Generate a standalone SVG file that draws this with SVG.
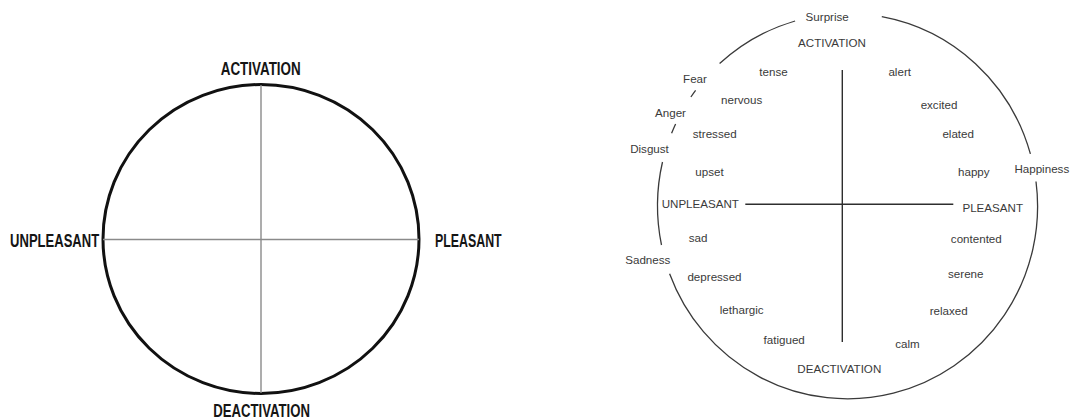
<svg xmlns="http://www.w3.org/2000/svg" width="1070" height="420" viewBox="0 0 1070 420">
  <style>
    .bg { fill: #ffffff; }
    .ring-bold { fill: none; stroke: #111111; stroke-width: 3; }
    .axis-light { stroke: #8a8a8a; stroke-width: 1.4; }
    .pole { font-family: "Liberation Sans", Arial, sans-serif; font-weight: bold; font-size: 18.5px; fill: #151515; text-anchor: middle; }
    .pole-low { font-size: 17.5px; }
    .ring-thin { fill: none; stroke: #3a3a3a; stroke-width: 1.3; }
    .axis-dark { stroke: #2e2e2e; stroke-width: 1.4; }
    .word { font-family: "Liberation Sans", Arial, sans-serif; font-size: 11.6px; fill: #3a3a3a; text-anchor: middle; }
  </style>

  <rect class="bg" x="0" y="0" width="1070" height="420"/>

  <!-- Simple circumplex: circle with two axes -->
  <g id="basic-model">
    <g id="basic-connectors">
      <ellipse class="ring-bold" cx="261" cy="239" rx="158" ry="154.5"/>
      <line class="axis-light" x1="261" y1="85" x2="261" y2="393"/>
      <line class="axis-light" x1="103" y1="239.5" x2="419" y2="239.5"/>
    </g>
    <g id="basic-activation"><text class="pole" x="260.7" y="75" textLength="80" lengthAdjust="spacingAndGlyphs">ACTIVATION</text></g>
    <g id="basic-deactivation"><text class="pole pole-low" x="261.6" y="416.5" textLength="96.7" lengthAdjust="spacingAndGlyphs">DEACTIVATION</text></g>
    <g id="basic-unpleasant"><text class="pole" x="54.6" y="247" textLength="89" lengthAdjust="spacingAndGlyphs">UNPLEASANT</text></g>
    <g id="basic-pleasant"><text class="pole" x="468.3" y="246.7" textLength="66.7" lengthAdjust="spacingAndGlyphs">PLEASANT</text></g>
  </g>

  <!-- Detailed circumplex: broken outer ring with emotion words -->
  <g id="detailed-model">
    <g id="detailed-connectors">
      <path class="ring-thin" d="M719.6,63.6 A190,192.5 0 0 1 795.1,21.0"/>
      <path class="ring-thin" d="M881.8,16.7 A190,192.5 0 0 1 1030.4,153.9"/>
      <path class="ring-thin" d="M1036.0,181.5 A190,192.5 0 0 1 669.6,273.7"/>
      <path class="ring-thin" d="M661.5,245.0 A190,192.5 0 0 1 662.5,162.0"/>
      <path class="ring-thin" d="M690.9,97.0 A190,192.5 0 0 1 695.6,90.4"/>
      <path class="ring-thin" d="M671.6,133.3 A190,192.5 0 0 1 675.6,124.0"/>
      <line class="axis-dark" x1="842.3" y1="70" x2="842.3" y2="342"/>
      <line class="axis-dark" x1="745.3" y1="204.3" x2="953.3" y2="204.3"/>
    </g>

    <g id="label-surprise"><text class="word" x="827.2" y="20.7">Surprise</text></g>
    <g id="label-activation"><text class="word" x="832" y="47.3">ACTIVATION</text></g>
    <g id="label-tense"><text class="word" x="773.5" y="76">tense</text></g>
    <g id="label-alert"><text class="word" x="899.7" y="76">alert</text></g>
    <g id="label-fear"><text class="word" x="695" y="83.3">Fear</text></g>
    <g id="label-nervous"><text class="word" x="741.7" y="104">nervous</text></g>
    <g id="label-excited"><text class="word" x="939" y="109.3">excited</text></g>
    <g id="label-anger"><text class="word" x="670.5" y="116.5">Anger</text></g>
    <g id="label-stressed"><text class="word" x="714.7" y="138.3">stressed</text></g>
    <g id="label-elated"><text class="word" x="958.2" y="138.3">elated</text></g>
    <g id="label-disgust"><text class="word" x="649.5" y="153.3">Disgust</text></g>
    <g id="label-happiness"><text class="word" x="1041.8" y="172.5">Happiness</text></g>
    <g id="label-happy"><text class="word" x="973.8" y="175.7">happy</text></g>
    <g id="label-upset"><text class="word" x="709.5" y="176">upset</text></g>
    <g id="label-unpleasant"><text class="word" x="700.3" y="208">UNPLEASANT</text></g>
    <g id="label-pleasant"><text class="word" x="992.7" y="211.6">PLEASANT</text></g>
    <g id="label-sad"><text class="word" x="698" y="241.7">sad</text></g>
    <g id="label-contented"><text class="word" x="976.3" y="243.3">contented</text></g>
    <g id="label-sadness"><text class="word" x="647.8" y="264">Sadness</text></g>
    <g id="label-serene"><text class="word" x="965.8" y="278.3">serene</text></g>
    <g id="label-depressed"><text class="word" x="714.5" y="281.3">depressed</text></g>
    <g id="label-lethargic"><text class="word" x="741.7" y="314.3">lethargic</text></g>
    <g id="label-relaxed"><text class="word" x="948.7" y="315">relaxed</text></g>
    <g id="label-fatigued"><text class="word" x="784.2" y="344.3">fatigued</text></g>
    <g id="label-calm"><text class="word" x="907.5" y="347.7">calm</text></g>
    <g id="label-deactivation"><text class="word" x="839.3" y="373.3">DEACTIVATION</text></g>
  </g>
</svg>
